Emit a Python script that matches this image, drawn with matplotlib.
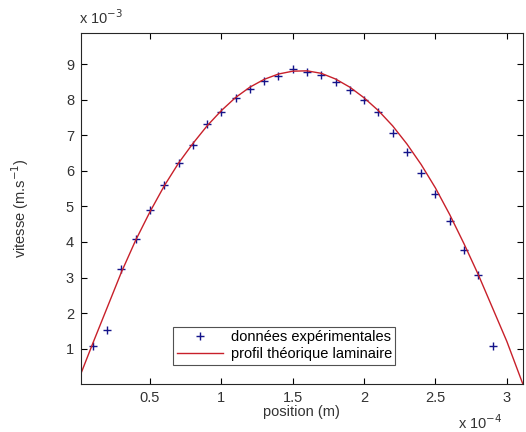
import numpy as np
import matplotlib
matplotlib.use("Agg")
from matplotlib import pyplot as plt
from matplotlib.ticker import FuncFormatter

plt.rcParams['font.family'] = ['Liberation Sans', 'DejaVu Sans']

# positions in units of 1e-4 m, speeds in units of 1e-3 m/s
pos_exp = [0.1, 0.2, 0.3, 0.4, 0.5, 0.6, 0.7, 0.8, 0.9, 1.0,
           1.1, 1.2, 1.3, 1.4, 1.5, 1.6, 1.7, 1.8, 1.9, 2.0,
           2.1, 2.2, 2.3, 2.4, 2.5, 2.6, 2.7, 2.8, 2.9]
v_exp = [1.06, 1.53, 3.25, 4.09, 4.89, 5.61, 6.22, 6.74, 7.32, 7.65,
         8.06, 8.32, 8.53, 8.67, 8.86, 8.78, 8.69, 8.51, 8.27, 7.99,
         7.66, 7.08, 6.53, 5.94, 5.35, 4.59, 3.77, 3.08, 1.06]

pos_th = [0.017, 0.1, 0.2, 0.3, 0.4, 0.5, 0.6, 0.7, 0.8, 0.9, 1.0,
          1.1, 1.2, 1.3, 1.4, 1.5, 1.6, 1.7, 1.8, 1.9, 2.0,
          2.1, 2.2, 2.3, 2.4, 2.5, 2.6, 2.7, 2.8, 2.9, 3.0, 3.112]
v_th = [0.30, 1.15, 2.15, 3.15, 4.05, 4.85, 5.58, 6.22, 6.77, 7.27, 7.70,
        8.07, 8.36, 8.58, 8.73, 8.81, 8.82, 8.75, 8.59, 8.36, 8.06,
        7.70, 7.27, 6.76, 6.18, 5.52, 4.77, 3.95, 3.08, 2.14, 1.20, 0.0]

xs, ys = 1e-4, 1e-3

fig = plt.figure(figsize=(5.26, 4.32), dpi=100)
ax = fig.add_axes([0.154, 0.111, 0.840, 0.813])

ax.plot(np.array(pos_exp) * xs, np.array(v_exp) * ys, '+', color='#14148a',
        markersize=6, markeredgewidth=1.0, label="données expérimentales")
ax.plot(np.array(pos_th) * xs, np.array(v_th) * ys, '-', color='#c8202a',
        linewidth=1.0, label="profil théorique laminaire")

ax.set_xlim(0.017 * xs, 3.112 * xs)
ax.set_ylim(0.0, 9.89 * ys)
ax.set_xticks(np.array([0.5, 1, 1.5, 2, 2.5, 3]) * xs)
ax.set_yticks(np.arange(1, 10) * ys)
ax.xaxis.set_major_formatter(FuncFormatter(lambda v, p: "%g" % round(v / xs, 3)))
ax.yaxis.set_major_formatter(FuncFormatter(lambda v, p: "%g" % round(v / ys, 3)))
ax.tick_params(direction='in', length=4, width=0.8, top=True, right=True,
               labelsize=10.5, labelcolor='#333333', pad=5)
for s in ax.spines.values():
    s.set_linewidth(0.8)
    s.set_color('#262626')

ax.set_xlabel("position (m)", fontsize=10.5, color='#333333', labelpad=0)
ax.set_ylabel("vitesse (m.s$^{-1}$)", fontsize=10.5, color='#333333', labelpad=25)

fig.text(0.150, 0.945, r"x 10$^{-3}$", fontsize=10.5, color='#333333')
fig.text(0.870, 0.008, r"x 10$^{-4}$", fontsize=10.5, color='#333333')

leg = ax.legend(loc='lower left', bbox_to_anchor=(0.208, 0.055), fancybox=False,
                edgecolor='#262626', fontsize=10.5, handlelength=3.2,
                borderpad=0.25, labelspacing=0.2, handletextpad=0.5,
                borderaxespad=0.0)
leg.get_frame().set_linewidth(0.8)

plt.savefig("out.png", dpi=100)
